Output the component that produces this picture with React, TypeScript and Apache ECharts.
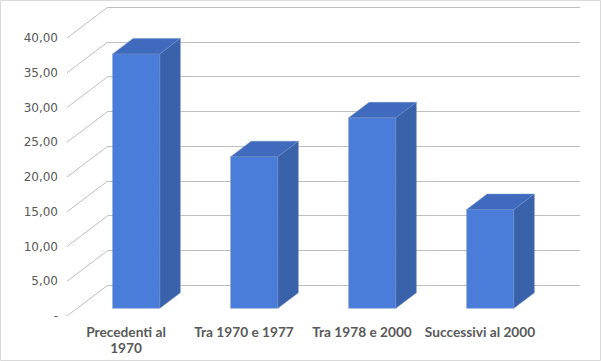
import React, { useEffect, useRef } from "react";
import * as echarts from "echarts";

const categories = ["Precedenti al\n1970", "Tra 1970 e 1977", "Tra 1978 e 2000", "Successivi al 2000"];
const values = [36.6, 21.8, 27.4, 14.2];
const yTicks = [0, 5, 10, 15, 20, 25, 30, 35, 40];

const DX = 41;
const DY = -31;
const F1 = 0.25;
const F2 = 0.75;

export default function App() {
  const ref = useRef<HTMLDivElement>(null);
  useEffect(() => {
    if (!ref.current) return;
    const chart = echarts.init(ref.current, undefined, { renderer: "svg" });
    const gridLine = "#bfbfbf";
    chart.setOption({
      animation: false,
      backgroundColor: "#ffffff",
      graphic: [
        {
          type: "rect",
          shape: { x: 0.5, y: 0.5, width: 600, height: 360 },
          style: { fill: "none", stroke: "#d9d9d9", lineWidth: 1 },
          silent: true,
          z: 100,
        },
      ],
      grid: [
        { left: 67, top: 38, width: 472, height: 278 },
        { left: 67 + DX, top: 38 + DY, width: 472, height: 278 },
      ],
      xAxis: [
        {
          type: "category",
          gridIndex: 0,
          data: categories,
          axisLine: { show: false },
          axisTick: { show: false },
          axisLabel: {
            interval: 0,
            margin: 7,
            fontFamily: "Lato",
            fontWeight: "bold",
            fontSize: 13.7,
            lineHeight: 16,
            color: "#595959",
          },
        },
        {
          type: "category",
          gridIndex: 1,
          data: categories,
          show: false,
        },
      ],
      yAxis: [
        {
          type: "value",
          gridIndex: 0,
          min: 0,
          max: 40,
          interval: 5,
          axisLine: { show: false },
          axisTick: { show: false },
          splitLine: { show: false },
          axisLabel: {
            margin: 9,
            fontFamily: "DejaVu Sans",
            fontSize: 12,
            color: "#595959",
            formatter: (v: number) => (v === 0 ? "-" : v.toFixed(2).replace(".", ",")),
          },
        },
        {
          type: "value",
          gridIndex: 1,
          min: 0,
          max: 40,
          interval: 5,
          axisLine: { show: false },
          axisTick: { show: false },
          axisLabel: { show: false },
          splitLine: { show: true, lineStyle: { color: gridLine, width: 1 } },
        },
      ],
      series: [
        {
          type: "custom",
          xAxisIndex: 0,
          yAxisIndex: 0,
          data: yTicks.map((v) => [0, v]),
          encode: { x: 0, y: 1 },
          silent: true,
          z: 1,
          renderItem: (params: any, api: any) => {
            const y = api.coord([0, api.value(1)])[1];
            const x0 = params.coordSys.x;
            return {
              type: "line",
              shape: { x1: x0, y1: y, x2: x0 + DX, y2: y + DY },
              style: { stroke: gridLine, lineWidth: 1 },
            };
          },
        },
        {
          type: "custom",
          xAxisIndex: 0,
          yAxisIndex: 0,
          data: values.map((v, i) => [i, v]),
          encode: { x: 0, y: 1 },
          z: 3,
          renderItem: (params: any, api: any) => {
            const i = api.value(0);
            const v = api.value(1);
            const base = api.coord([i, 0]);
            const top = api.coord([i, v]);
            const w = api.size([1, 0])[0] * 0.4;
            const cx = base[0];
            const l1 = cx - w / 2 + F1 * DX;
            const r1 = cx + w / 2 + F1 * DX;
            const t1 = top[1] + F1 * DY;
            const b1 = base[1] + F1 * DY;
            const ox = (F2 - F1) * DX;
            const oy = (F2 - F1) * DY;
            return {
              type: "group",
              children: [
                {
                  type: "polygon",
                  shape: { points: [[l1, t1], [r1, t1], [r1, b1], [l1, b1]] },
                  style: { fill: "#4a7dd9", stroke: "#6f8fc9", lineWidth: 0.5 },
                },
                {
                  type: "polygon",
                  shape: { points: [[l1, t1], [l1 + ox, t1 + oy], [r1 + ox, t1 + oy], [r1, t1]] },
                  style: { fill: "#406abd", stroke: "#6f8fc9", lineWidth: 0.5 },
                },
                {
                  type: "polygon",
                  shape: { points: [[r1, t1], [r1 + ox, t1 + oy], [r1 + ox, b1 + oy], [r1, b1]] },
                  style: { fill: "#3a62aa", stroke: "#6f8fc9", lineWidth: 0.5 },
                },
              ],
            };
          },
        },
      ],
    });
    return () => chart.dispose();
  }, []);
  return (
    <div
      ref={ref}
      style={{ position: "fixed", left: 0, top: 0, width: 601, height: 361 }}
    />
  );
}
